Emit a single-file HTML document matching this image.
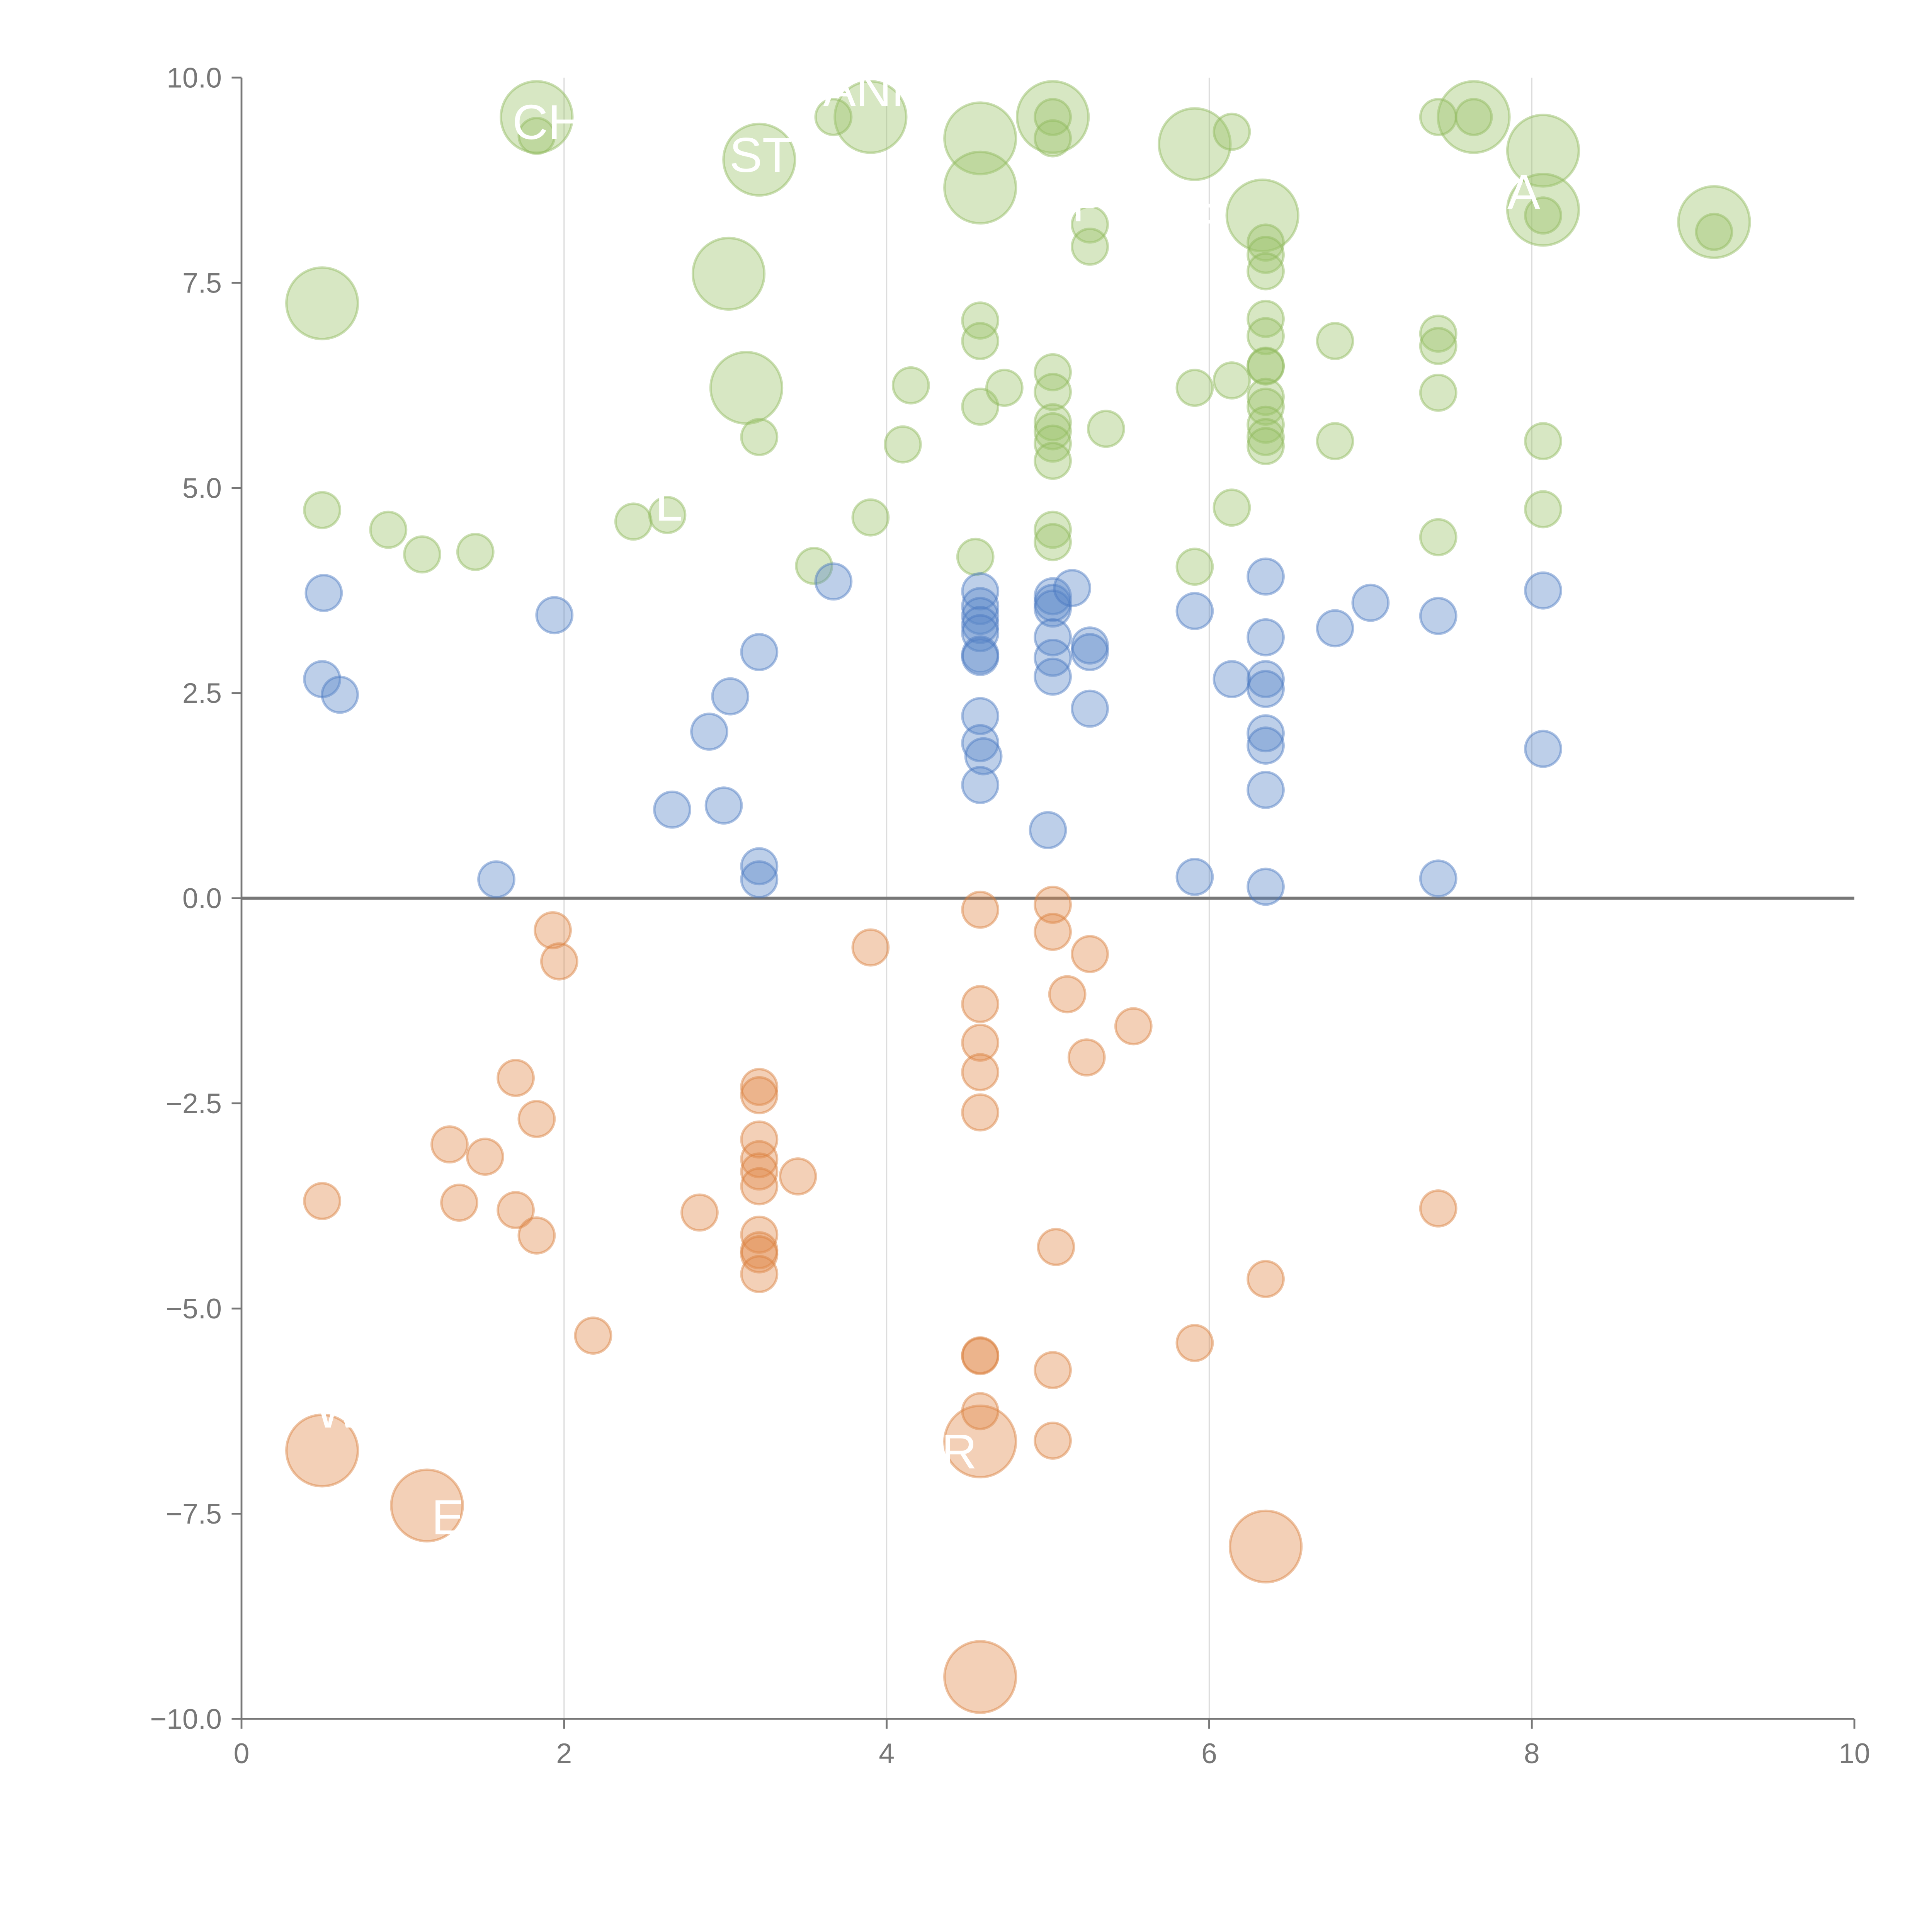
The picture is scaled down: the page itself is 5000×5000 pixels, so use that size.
<!DOCTYPE html>
<html><head><meta charset="utf-8"><style>html,body{margin:0;padding:0;background:#fff}svg{display:block}</style></head>
<body>
<svg id="chart" width="5000" height="5000" viewBox="0 0 1568 1568" xmlns="http://www.w3.org/2000/svg" font-family="Liberation Sans, sans-serif">
<g id="grid"></g>
<g id="axes"></g>
<g id="marks"></g>
<g id="labels"></g>
</svg>
<script>
const xTicks = [0, 2, 4, 6, 8, 10];
const yTicks = [10, 7.5, 5, 2.5, 0, -2.5, -5, -7.5, -10];
const yTickLabels = ["10.0", "7.5", "5.0", "2.5", "0.0", "\u22122.5", "\u22125.0", "\u22127.5", "\u221210.0"];
const greenLargeX = [0.50,1.83,3.21,3.02,3.13,3.90,4.58,4.58,5.03,5.91,6.33,7.64,8.07,8.07,9.13];
const greenLargeY = [7.25,9.52,9.00,7.61,6.22,9.52,9.26,8.66,9.52,9.19,8.32,9.52,9.11,8.39,8.24];
const greenX = [1.83,3.67,5.03,5.03,6.14,7.42,7.64,5.26,5.26,6.35,6.35,6.35,8.07,9.13,0.50,0.91,1.12,1.45,2.43,2.64,3.21,3.55,3.90,4.10,4.15,4.58,4.58,4.58,4.55,4.73,5.03,5.03,5.03,5.03,5.03,5.03,5.03,5.03,5.36,5.91,5.91,6.14,6.14,6.35,6.35,6.35,6.35,6.35,6.35,6.35,6.35,6.35,6.78,6.78,7.42,7.42,7.42,7.42,8.07,8.07];
const greenY = [9.29,9.52,9.52,9.26,9.34,9.52,9.52,8.21,7.94,7.99,7.84,7.64,8.32,8.12,4.73,4.49,4.19,4.22,4.59,4.67,5.62,4.05,4.64,5.53,6.25,7.04,6.79,5.99,4.16,6.22,6.41,6.17,5.80,5.69,5.54,5.33,4.49,4.34,5.72,6.22,4.04,6.31,4.76,7.06,6.85,6.49,6.48,6.11,5.99,5.77,5.62,5.51,6.79,5.57,6.88,6.73,6.16,4.40,5.57,4.74];
const blueX = [0.51,0.50,0.61,1.58,1.94,2.67,2.90,2.99,3.03,3.21,3.21,3.21,3.67,4.58,4.58,4.58,4.58,4.58,4.58,4.58,4.58,4.58,4.60,4.58,5.00,5.03,5.03,5.03,5.15,5.03,5.03,5.03,5.26,5.26,5.26,5.91,5.91,6.14,6.35,6.35,6.35,6.35,6.35,6.35,6.35,6.35,6.78,7.00,7.42,7.42,8.07,8.07];
const blueY = [3.72,2.67,2.48,0.23,3.45,1.08,2.03,1.13,2.46,3.00,0.39,0.23,3.86,3.74,3.56,3.44,3.33,3.23,2.97,2.94,2.22,1.89,1.73,1.38,0.83,3.68,3.60,3.53,3.78,3.18,2.93,2.70,3.08,3.00,2.31,3.50,0.26,2.67,3.92,3.18,2.67,2.55,2.01,1.86,1.32,0.14,3.29,3.60,3.44,0.24,3.75,1.82];
const orangeLargeX = [0.50,1.15,4.58,6.35,4.58];
const orangeLargeY = [-6.73,-7.40,-6.62,-7.90,-9.49];
const orangeX = [0.50,1.29,1.35,1.51,1.70,1.70,1.83,1.83,1.93,1.97,2.18,2.84,3.21,3.21,3.21,3.21,3.21,3.21,3.21,3.21,3.21,3.21,3.45,3.90,4.58,4.58,4.58,4.58,4.58,4.58,4.58,4.58,5.03,5.03,5.12,5.26,5.24,5.53,5.05,5.03,5.03,5.91,6.35,7.42];
const orangeY = [-3.69,-3.00,-3.71,-3.15,-2.19,-3.80,-2.69,-4.11,-0.39,-0.77,-5.33,-3.83,-2.30,-2.40,-2.94,-3.18,-3.33,-3.51,-4.10,-4.29,-4.34,-4.58,-3.39,-0.60,-0.14,-1.29,-1.76,-2.12,-2.61,-5.57,-5.58,-6.25,-0.08,-0.41,-1.17,-0.68,-1.94,-1.56,-4.25,-5.75,-6.61,-5.42,-4.64,-3.78];
const labelText = ["CH","ST","ANK","L","A","R","P","W","E","R","I"];
const labelX = [1.90,3.22,3.92,2.65,7.95,6.0,5.25,0.60,1.28,4.45,6.40];
const labelY = [9.25,8.85,9.65,4.6,8.4,8.05,8.25,-6.45,-7.75,-6.95,-7.45];

const NS = "http://www.w3.org/2000/svg";
const X0 = 196, X1 = 1505, Y0 = 1395, Y1 = 63;
function sx(v){ return X0 + (v - 0) / 10 * (X1 - X0); }
function sy(v){ return Y0 - (v + 10) / 20 * (Y0 - Y1); }
function mk(tag, attrs, parent){ const e = document.createElementNS(NS, tag); for (const k in attrs) e.setAttribute(k, attrs[k]); parent.appendChild(e); return e; }

const grid = document.getElementById('grid');
const axes = document.getElementById('axes');
const marks = document.getElementById('marks');
const labels = document.getElementById('labels');

xTicks.forEach(t => {
  if (t > 0 && t < 10) {
    const g = mk('line', {x1: sx(t), x2: sx(t), y1: Y1, y2: Y0, stroke: '#dddddd', 'stroke-width': 1}, grid);
    
    
  }
  const tk = mk('line', {x1: sx(t), x2: sx(t), y1: Y0, y2: Y0 + 8, stroke: '#777', 'stroke-width': 1.5}, axes);
  
  
  const tl = mk('text', {x: sx(t), y: Y0 + 36, 'text-anchor': 'middle', 'font-size': 23, fill: '#777'}, axes);
  tl.textContent = String(t);
  
  
});
yTicks.forEach((t, i) => {
  const tk = mk('line', {x1: X0 - 8, x2: X0, y1: sy(t), y2: sy(t), stroke: '#777', 'stroke-width': 1.5}, axes);
  
  
  const tl = mk('text', {x: X0 - 16, y: sy(t) + 8, 'text-anchor': 'end', 'font-size': 23, fill: '#777'}, axes);
  tl.textContent = yTickLabels[i];
  
  
});
const ya = mk('line', {x1: X0, x2: X0, y1: Y1, y2: Y0, stroke: '#777', 'stroke-width': 1.5}, axes);


const xa = mk('line', {x1: X0, x2: X1, y1: Y0, y2: Y0, stroke: '#777', 'stroke-width': 1.5}, axes);


const zl = mk('line', {x1: X0, x2: X1, y1: sy(0), y2: sy(0), stroke: '#777', 'stroke-width': 2.5}, axes);



function drawSeries(xs, ys, r, fill, stroke, name){
  xs.forEach((v, i) => {
    const c = mk('circle', {cx: sx(v), cy: sy(ys[i]), r: r, fill: fill, 'fill-opacity': 0.4, stroke: stroke, 'stroke-opacity': 0.45, 'stroke-width': 2}, marks);
    
    
  });
}
drawSeries(greenLargeX, greenLargeY, 29, '#9cc26a', '#8db75a', 'green-large-bubble');
drawSeries(greenX, greenY, 14.5, '#9cc26a', '#8db75a', 'green-bubble');
drawSeries(blueX, blueY, 14.5, '#5b87c8', '#4a78c0', 'blue-bubble');
drawSeries(orangeLargeX, orangeLargeY, 29, '#e0894a', '#d97f3c', 'orange-large-bubble');
drawSeries(orangeX, orangeY, 14.5, '#e0894a', '#d97f3c', 'orange-bubble');

labelText.forEach((s, i) => {
  const t = mk('text', {x: sx(labelX[i]), y: sy(labelY[i]), 'text-anchor': 'middle', 'font-size': 40, fill: '#ffffff'}, labels);
  t.textContent = s;
  
  
});
</script>
</body></html>
